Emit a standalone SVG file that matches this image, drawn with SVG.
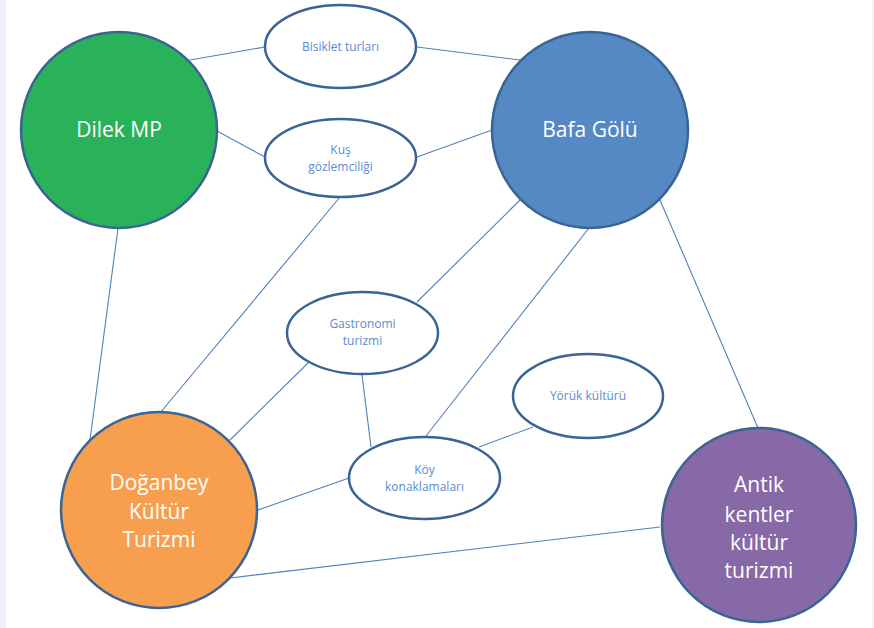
<svg xmlns="http://www.w3.org/2000/svg" width="874" height="628" viewBox="0 0 874 628">
<style>
.bg{fill:#ffffff}
.edge{stroke:#4f81bd;stroke-width:1.1;fill:none}
.ring{stroke:#3a6494;stroke-width:2.5}
.oval{fill:#ffffff;stroke:#3a6494;stroke-width:2.5}
.big{font-family:"Open Sans","Liberation Sans",sans-serif;font-size:21px;fill:#ffffff;text-anchor:middle}
.small{font-family:"Open Sans","Liberation Sans",sans-serif;font-size:12px;fill:#5b8bd0;text-anchor:middle}
</style>
<rect class="bg" x="0" y="0" width="874" height="628"/>
<rect x="0" y="0" width="6" height="628" fill="#eef2f9"/>
<line x1="873" y1="0" x2="873" y2="628" stroke="#e8ecf4" stroke-width="1"/>
<g id="connectors">
<line class="edge" x1="190" y1="60" x2="265" y2="47"/>
<line class="edge" x1="217" y1="131" x2="265" y2="157"/>
<line class="edge" x1="417" y1="47" x2="520" y2="60"/>
<line class="edge" x1="417" y1="157" x2="492" y2="130"/>
<line class="edge" x1="340" y1="197" x2="160" y2="413"/>
<line class="edge" x1="118" y1="228" x2="90" y2="440"/>
<line class="edge" x1="520" y1="200" x2="417" y2="302"/>
<line class="edge" x1="589" y1="228" x2="426" y2="436"/>
<line class="edge" x1="660" y1="200" x2="758" y2="428"/>
<line class="edge" x1="362" y1="375" x2="371" y2="447"/>
<line class="edge" x1="308" y1="363" x2="230" y2="440"/>
<line class="edge" x1="479" y1="447" x2="533" y2="427"/>
<line class="edge" x1="349" y1="478" x2="258" y2="510"/>
<line class="edge" x1="230" y1="578" x2="660" y2="527"/>
</g>
<g id="dilek">
<circle class="ring" cx="119" cy="130" r="98" fill="#29b25a"/>
<text class="big" x="119" y="137">Dilek MP</text>
</g>
<g id="bafa">
<circle class="ring" cx="590" cy="130" r="98" fill="#5589c3"/>
<text class="big" x="590" y="137">Bafa Gölü</text>
</g>
<g id="doganbey">
<circle class="ring" cx="159" cy="510" r="98" fill="#f79f4f"/>
<text class="big" x="159" y="490">Doğanbey</text>
<text class="big" x="159" y="519">Kültür</text>
<text class="big" x="159" y="547">Turizmi</text>
</g>
<g id="antik">
<circle class="ring" cx="759" cy="525" r="97" fill="#8669a6"/>
<text class="big" x="759" y="492">Antik</text>
<text class="big" x="759" y="522">kentler</text>
<text class="big" x="759" y="550">kültür</text>
<text class="big" x="759" y="578">turizmi</text>
</g>
<g id="bisiklet">
<ellipse class="oval" cx="340.5" cy="46.5" rx="75.5" ry="41.5"/>
<text class="small" x="340.5" y="51">Bisiklet turları</text>
</g>
<g id="kus">
<ellipse class="oval" cx="340.5" cy="158" rx="75.5" ry="39"/>
<text class="small" x="340.5" y="154">Kuş</text>
<text class="small" x="340.5" y="171">gözlemciliği</text>
</g>
<g id="gastronomi">
<ellipse class="oval" cx="362.5" cy="333" rx="75.5" ry="41"/>
<text class="small" x="362.5" y="328">Gastronomi</text>
<text class="small" x="362.5" y="345">turizmi</text>
</g>
<g id="yoruk">
<ellipse class="oval" cx="588" cy="396" rx="75" ry="42"/>
<text class="small" x="588" y="400">Yörük kültürü</text>
</g>
<g id="koy">
<ellipse class="oval" cx="424.5" cy="478" rx="75.5" ry="41"/>
<text class="small" x="424.5" y="474">Köy</text>
<text class="small" x="424.5" y="491">konaklamaları</text>
</g>
</svg>
